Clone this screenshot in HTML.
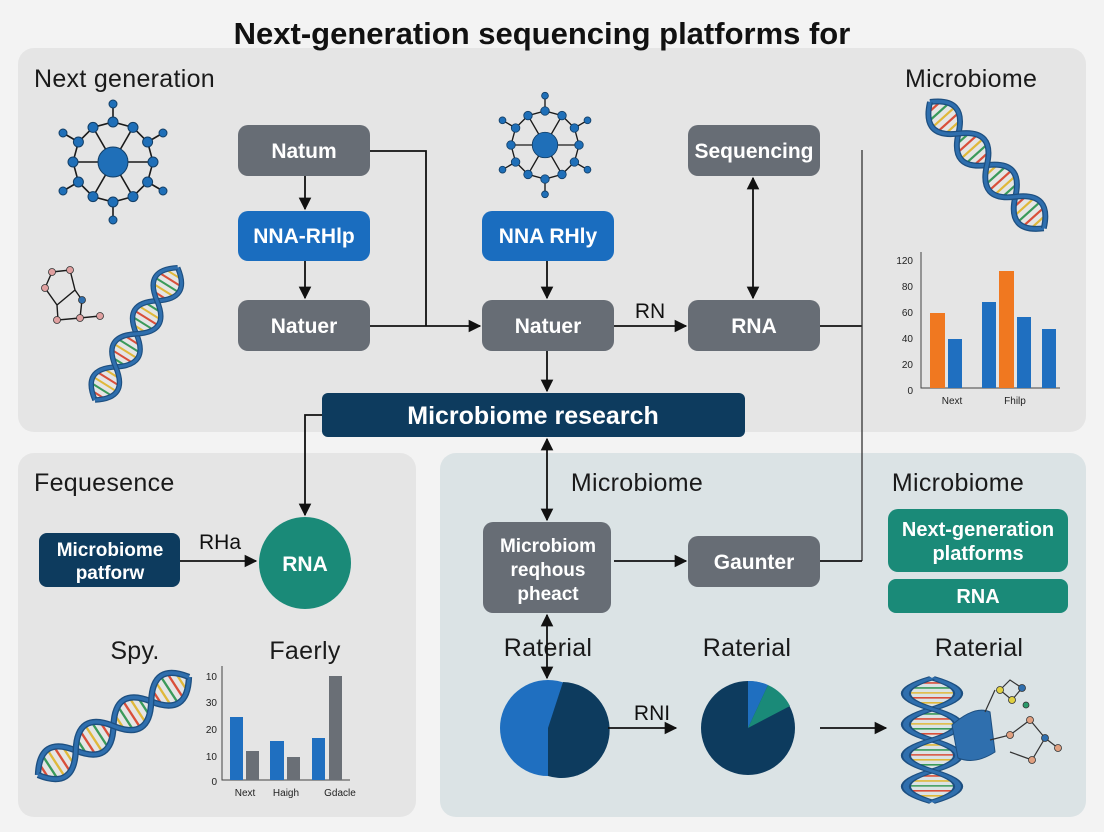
<!DOCTYPE html>
<html><head><meta charset="utf-8"><style>
html,body{margin:0;padding:0;background:#f3f3f3;}
svg{display:block;font-family:"Liberation Sans",sans-serif;}
.b{font-weight:bold;fill:#fff;font-size:21px;text-anchor:middle;}
.l{font-size:25px;fill:#1a1a1a;letter-spacing:0.3px;}
.c{text-anchor:middle;}
.ln{stroke:#111;stroke-width:1.8;fill:none;}
.ax{font-size:10px;fill:#222;}
</style></head><body>
<svg width="1104" height="832" viewBox="0 0 1104 832" xmlns="http://www.w3.org/2000/svg">
<defs>
<marker id="a" viewBox="0 0 10 10" refX="9" refY="5" markerWidth="7" markerHeight="7" orient="auto-start-reverse"><path d="M0,0L10,5L0,10z" fill="#111"/></marker>
<g id="helix">
<g stroke-width="2.6">
<g stroke="#d94f3a"><line x1="8" y1="-8.7" x2="8" y2="8.7"/><line x1="32" y1="-16.3" x2="32" y2="16.3"/><line x1="66" y1="-15.2" x2="66" y2="15.2"/><line x1="90" y1="-10.6" x2="90" y2="10.6"/><line x1="124" y1="-18" x2="124" y2="18"/><line x1="158" y1="-8.7" x2="158" y2="8.7"/><line x1="182" y1="-16.3" x2="182" y2="16.3"/></g>
<g stroke="#3a9a5a"><line x1="16" y1="-15.2" x2="16" y2="15.2"/><line x1="58" y1="-8.7" x2="58" y2="8.7"/><line x1="82" y1="-16.3" x2="82" y2="16.3"/><line x1="116" y1="-15.2" x2="116" y2="15.2"/><line x1="140" y1="-10.6" x2="140" y2="10.6"/><line x1="174" y1="-18" x2="174" y2="18"/></g>
<g stroke="#e0b83a"><line x1="24" y1="-18" x2="24" y2="18"/><line x1="40" y1="-10.6" x2="40" y2="10.6"/><line x1="74" y1="-18" x2="74" y2="18"/><line x1="108" y1="-8.7" x2="108" y2="8.7"/><line x1="132" y1="-16.3" x2="132" y2="16.3"/><line x1="166" y1="-15.2" x2="166" y2="15.2"/><line x1="190" y1="-10.6" x2="190" y2="10.6"/></g>
</g>
<path d="M0,0 Q25,-36 50,0 T100,0 T150,0 T200,0" stroke="#1d4f80" stroke-width="7" fill="none"/>
<path d="M0,0 Q25,-36 50,0 T100,0 T150,0 T200,0" stroke="#2f6fae" stroke-width="4" fill="none"/>
<path d="M0,0 Q25,36 50,0 T100,0 T150,0 T200,0" stroke="#1d4f80" stroke-width="7" fill="none"/>
<path d="M0,0 Q25,36 50,0 T100,0 T150,0 T200,0" stroke="#2f6fae" stroke-width="4" fill="none"/>
</g>
<g id="mol">
<g stroke="#1a1a1a" stroke-width="1.6" fill="none">
<polygon points="40,0 34.6,20 20,34.6 0,40 -20,34.6 -34.6,20 -40,0 -34.6,-20 -20,-34.6 0,-40 20,-34.6 34.6,-20"/>
<path d="M0,0L40,0M0,0L20,34.6M0,0L-20,34.6M0,0L-40,0M0,0L-20,-34.6M0,0L20,-34.6M34.6,20L50,29M0,40L0,58M-34.6,20L-50,29M-34.6,-20L-50,-29M0,-40L0,-58M34.6,-20L50,-29"/>
</g>
<g fill="#1f6fb8" stroke="#123e66" stroke-width="1">
<circle r="15"/>
<circle cx="40" cy="0" r="5"/><circle cx="34.6" cy="20" r="5"/><circle cx="20" cy="34.6" r="5"/><circle cx="0" cy="40" r="5"/><circle cx="-20" cy="34.6" r="5"/><circle cx="-34.6" cy="20" r="5"/><circle cx="-40" cy="0" r="5"/><circle cx="-34.6" cy="-20" r="5"/><circle cx="-20" cy="-34.6" r="5"/><circle cx="0" cy="-40" r="5"/><circle cx="20" cy="-34.6" r="5"/><circle cx="34.6" cy="-20" r="5"/>
<circle cx="50" cy="29" r="4"/><circle cx="0" cy="58" r="4"/><circle cx="-50" cy="29" r="4"/><circle cx="-50" cy="-29" r="4"/><circle cx="0" cy="-58" r="4"/><circle cx="50" cy="-29" r="4"/>
</g>
</g>
</defs>

<!-- panels -->
<rect x="18" y="48" width="1068" height="384" rx="16" fill="#e5e5e5"/>
<rect x="18" y="453" width="398" height="364" rx="16" fill="#e5e5e5"/>
<rect x="440" y="453" width="646" height="364" rx="16" fill="#dbe3e5"/>

<text x="542" y="44" class="c" style="font-size:31px;font-weight:bold;fill:#111">Next-generation sequencing platforms for</text>

<text x="34" y="87" class="l">Next generation</text>
<text x="905" y="87" class="l">Microbiome</text>
<text x="34" y="491" class="l">Fequesence</text>
<text x="135" y="659" class="l c">Spy.</text>
<text x="305" y="659" class="l c">Faerly</text>
<text x="637" y="491" class="l c">Microbiome</text>
<text x="958" y="491" class="l c">Microbiome</text>
<text x="548" y="656" class="l c">Raterial</text>
<text x="747" y="656" class="l c">Raterial</text>
<text x="979" y="656" class="l c">Raterial</text>

<!-- illustrations -->
<use href="#mol" transform="translate(113,162)"/>
<use href="#mol" transform="translate(545,145) scale(0.85)"/>
<g stroke="#1a1a1a" stroke-width="1.4" fill="none"><path d="M52,272L70,270L75,290L57,305L45,288Z M75,290L82,300L80,318L100,316 M57,305L58,320L80,318"/></g>
<g fill="#e0a0a0" stroke="#333" stroke-width="0.8"><circle cx="52" cy="272" r="3.5"/><circle cx="70" cy="270" r="3.5"/><circle cx="45" cy="288" r="3.5"/><circle cx="57" cy="320" r="3.5"/><circle cx="80" cy="318" r="3.5"/><circle cx="100" cy="316" r="3.5"/><circle cx="82" cy="300" r="3.5" fill="#2f6fae"/></g>
<use href="#helix" transform="translate(95,400) rotate(-58) scale(0.78)"/>
<use href="#helix" transform="translate(930,102) rotate(48) scale(0.85)"/>
<use href="#helix" transform="translate(38,775) rotate(-33) scale(0.9)"/>
<use href="#helix" transform="translate(932,678) rotate(90) scale(0.62,1.45)"/>
<path d="M952,725 Q975,705 990,712 L995,752 Q975,765 958,758Z" fill="#2f6fae" stroke="#1d4f80"/>
<g stroke="#333" stroke-width="1.2" fill="none"><path d="M985,712L995,690 M990,740L1010,735L1030,720L1045,738L1032,760L1010,752 M1045,738L1058,748 M1000,690L1010,680L1022,688L1012,700Z"/></g>
<g stroke="#333" stroke-width="0.8"><circle cx="1000" cy="690" r="3.5" fill="#e0d040"/><circle cx="1022" cy="688" r="3.5" fill="#2f6fae"/><circle cx="1012" cy="700" r="3.5" fill="#e0d040"/><circle cx="1010" cy="735" r="3.5" fill="#e0a080"/><circle cx="1030" cy="720" r="3.5" fill="#e0a080"/><circle cx="1045" cy="738" r="3.5" fill="#2f6fae"/><circle cx="1032" cy="760" r="3.5" fill="#e0a080"/><circle cx="1058" cy="748" r="3.5" fill="#e0a080"/><circle cx="1026" cy="705" r="3" fill="#2a9a6a"/></g>

<!-- charts top-right -->
<g class="ax" text-anchor="end"><text x="913" y="264">120</text><text x="913" y="290">80</text><text x="913" y="316">60</text><text x="913" y="342">40</text><text x="913" y="368">20</text><text x="913" y="394">0</text></g>
<path d="M921,252V388H1060" stroke="#444" stroke-width="1" fill="none"/>
<rect x="930" y="313" width="15" height="75" fill="#f07820"/><rect x="948" y="339" width="14" height="49" fill="#1f6fc0"/><rect x="982" y="302" width="14" height="86" fill="#1f6fc0"/><rect x="999" y="271" width="15" height="117" fill="#f07820"/><rect x="1017" y="317" width="14" height="71" fill="#1f6fc0"/><rect x="1042" y="329" width="14" height="59" fill="#1f6fc0"/>
<text x="952" y="404" class="ax c">Next</text><text x="1015" y="404" class="ax c">Fhilp</text>

<!-- chart bottom-left -->
<g class="ax" text-anchor="end"><text x="217" y="680">10</text><text x="217" y="706">30</text><text x="217" y="733">20</text><text x="217" y="760">10</text><text x="217" y="785">0</text></g>
<path d="M222,666V780H350" stroke="#444" stroke-width="1" fill="none"/>
<rect x="230" y="717" width="13" height="63" fill="#1f6fc0"/><rect x="246" y="751" width="13" height="29" fill="#6a6f76"/><rect x="270" y="741" width="14" height="39" fill="#1f6fc0"/><rect x="287" y="757" width="13" height="23" fill="#6a6f76"/><rect x="312" y="738" width="13" height="42" fill="#1f6fc0"/><rect x="329" y="676" width="13" height="104" fill="#6a6f76"/>
<text x="245" y="796" class="ax c">Next</text><text x="286" y="796" class="ax c">Haigh</text><text x="340" y="796" class="ax c">Gdacle</text>

<!-- pies -->
<circle cx="548" cy="728" r="48" fill="#1f6fc0"/>
<path d="M548,728 L563,682 A48,48 0 1 1 548,776 Z" fill="#0d3b5e"/>
<circle cx="748" cy="728" r="47" fill="#0d3b5e"/>
<path d="M748,728 L748,681 A47,47 0 0 1 768,685 Z" fill="#1f6fc0"/>
<path d="M748,728 L768,685 A47,47 0 0 1 790,706 Z" fill="#1a8a78"/>

<!-- connectors -->
<path class="ln" d="M370,151H426V326"/>
<path class="ln" d="M370,326H480" marker-end="url(#a)"/>
<path class="ln" d="M305,176V209" marker-end="url(#a)"/>
<path class="ln" d="M305,261V298" marker-end="url(#a)"/>
<path class="ln" d="M547,261V298" marker-end="url(#a)"/>
<path class="ln" d="M614,326H686" marker-end="url(#a)"/>
<text x="650" y="318" class="c" style="font-size:21px;fill:#111">RN</text>
<path class="ln" d="M753,178V298" marker-start="url(#a)" marker-end="url(#a)"/>
<path class="ln" d="M820,326H862" /><path d="M862,150V561" stroke="#333" stroke-width="1.3"/>
<path class="ln" d="M820,561H862"/>
<path class="ln" d="M547,351V391" marker-end="url(#a)"/>
<path class="ln" d="M322,415H305V515" marker-end="url(#a)"/>
<path class="ln" d="M547,439V520" marker-start="url(#a)" marker-end="url(#a)"/>
<path class="ln" d="M614,561H686" marker-end="url(#a)"/>
<path class="ln" d="M547,615V678" marker-start="url(#a)" marker-end="url(#a)"/>
<path class="ln" d="M608,728H676" marker-end="url(#a)"/>
<text x="652" y="720" class="c" style="font-size:21px;fill:#111">RNI</text>
<path class="ln" d="M820,728H886" marker-end="url(#a)"/>
<path class="ln" d="M180,561H256" marker-end="url(#a)"/>
<text x="220" y="549" class="c" style="font-size:21px;fill:#111">RHa</text>

<!-- nodes -->
<rect x="238" y="125" width="132" height="51" rx="10" fill="#676d75"/><text x="304" y="158" class="b">Natum</text>
<rect x="238" y="211" width="132" height="50" rx="10" fill="#1a6dbf"/><text x="304" y="243" class="b">NNA-RHlp</text>
<rect x="238" y="300" width="132" height="51" rx="10" fill="#676d75"/><text x="304" y="333" class="b">Natuer</text>
<rect x="482" y="211" width="132" height="50" rx="10" fill="#1a6dbf"/><text x="548" y="243" class="b">NNA RHly</text>
<rect x="482" y="300" width="132" height="51" rx="10" fill="#676d75"/><text x="548" y="333" class="b">Natuer</text>
<rect x="688" y="125" width="132" height="51" rx="10" fill="#676d75"/><text x="754" y="158" class="b">Sequencing</text>
<rect x="688" y="300" width="132" height="51" rx="10" fill="#676d75"/><text x="754" y="333" class="b">RNA</text>
<rect x="322" y="393" width="423" height="44" rx="6" fill="#0d3b5e"/><text x="533" y="424" class="b" style="font-size:25px">Microbiome research</text>
<rect x="39" y="533" width="141" height="54" rx="8" fill="#0d3b5e"/><text x="110" y="556" class="b" style="font-size:19px">Microbiome</text><text x="110" y="579" class="b" style="font-size:19px">patforw</text>
<circle cx="305" cy="563" r="46" fill="#1a8a78"/><text x="305" y="571" class="b">RNA</text>
<rect x="483" y="522" width="128" height="91" rx="10" fill="#676d75"/><text x="548" y="552" class="b" style="font-size:19px">Microbiom</text><text x="548" y="576" class="b" style="font-size:19px">reqhous</text><text x="548" y="600" class="b" style="font-size:19px">pheact</text>
<rect x="688" y="536" width="132" height="51" rx="10" fill="#676d75"/><text x="754" y="569" class="b">Gaunter</text>
<rect x="888" y="509" width="180" height="63" rx="10" fill="#1a8a78"/><text x="978" y="536" class="b" style="font-size:20px">Next-generation</text><text x="978" y="560" class="b" style="font-size:20px">platforms</text>
<rect x="888" y="579" width="180" height="34" rx="8" fill="#1a8a78"/><text x="978" y="603" class="b" style="font-size:20px">RNA</text>
</svg>
</body></html>
